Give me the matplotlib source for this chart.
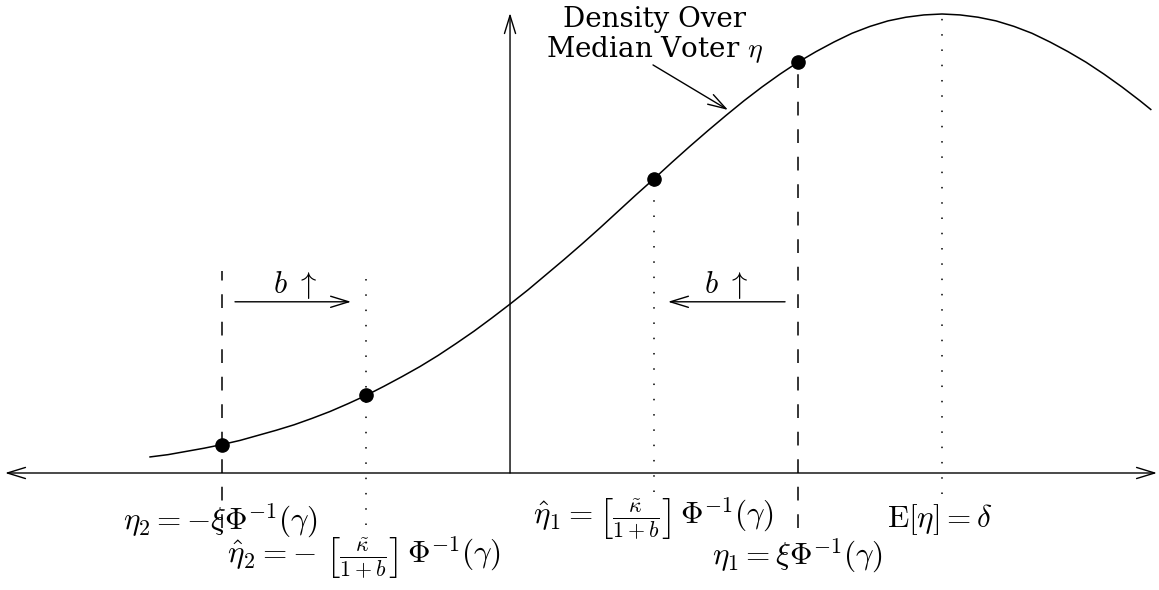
import numpy as np
import matplotlib.pyplot as plt
from matplotlib.patches import FancyArrowPatch

plt.rcParams['mathtext.fontset'] = 'cm'
plt.rcParams['font.family'] = 'DejaVu Serif'

# density of the median voter (peak = 1)
eta = [-2.5, -2.375, -2.25, -2.125, -2.0, -1.875, -1.75, -1.625, -1.5, -1.375,
       -1.25, -1.125, -1.0, -0.875, -0.75, -0.625, -0.5, -0.375, -0.25, -0.125,
       0.0, 0.125, 0.25, 0.375, 0.5, 0.625, 0.75, 0.875, 1.0, 1.125,
       1.25, 1.375, 1.5, 1.625, 1.75, 1.875, 2.0, 2.125, 2.25, 2.375,
       2.5, 2.625, 2.75, 2.875, 3.0, 3.125, 3.25, 3.375, 3.5, 3.625,
       3.75, 3.875, 4.0, 4.125, 4.25, 4.375, 4.45]
dens = [0.035, 0.040, 0.047, 0.054, 0.062, 0.071, 0.082, 0.093, 0.105, 0.119,
        0.134, 0.151, 0.169, 0.189, 0.210, 0.232, 0.256, 0.282, 0.309, 0.338,
        0.368, 0.399, 0.432, 0.465, 0.499, 0.534, 0.570, 0.606, 0.641, 0.677,
        0.712, 0.746, 0.779, 0.811, 0.841, 0.869, 0.895, 0.918, 0.939, 0.958,
        0.973, 0.985, 0.993, 0.998, 1.0, 0.998, 0.993, 0.985, 0.973, 0.958,
        0.939, 0.918, 0.895, 0.869, 0.841, 0.811, 0.792]

# marked points: eta2, eta2_hat, eta1_hat, eta1
pt_x = [-2.0, -1.0, 1.0, 2.0]
pt_y = [0.062, 0.169, 0.641, 0.895]

# vertical guides: x, top, bottom, style
guides = [(-2.0, 0.440, -0.120, 'dash'),
          (-1.0, 0.438, -0.113, 'dot'),
          (1.0, 0.641, -0.041, 'dot'),
          (2.0, 0.895, -0.120, 'dash'),
          (3.0, 1.0, -0.045, 'dot')]

labels = [(-2.014, -0.104, r'$\eta_2 = -\xi\Phi^{-1}(\gamma)$'),
          (-1.014, -0.186, r'$\hat{\eta}_2 = -\ \left[\frac{\tilde{\kappa}}{1+b}\right]\,\Phi^{-1}(\gamma)$'),
          (0.997, -0.102, r'$\hat{\eta}_1 = \left[\frac{\tilde{\kappa}}{1+b}\right]\,\Phi^{-1}(\gamma)$'),
          (1.993, -0.179, r'$\eta_1 = \xi\Phi^{-1}(\gamma)$'),
          (2.986, -0.102, r'$\mathrm{E}[\eta] = \delta$')]

fig = plt.figure(figsize=(11.59, 5.90), dpi=100)
ax = fig.add_axes([0, 0, 1, 1])
ax.set_xlim(-3.542, 4.507)
ax.set_ylim(-0.2549, 1.0305)
ax.axis('off')

def arrow(p0, p1, style='->'):
    a = FancyArrowPatch(p0, p1, arrowstyle=style + ',head_length=0.65,head_width=0.2',
                        mutation_scale=20, lw=1, color='black', shrinkA=0, shrinkB=0)
    ax.add_patch(a)

# axes
arrow((-3.507, 0), (4.493, 0), '<->')
arrow((0, 0), (0, 1.002))

ax.plot(eta, dens, color='black', lw=1.1)

for x, top, bot, st in guides:
    ls = (0, (9, 9)) if st == 'dash' else (0, (1, 9))
    ax.plot([x, x], [bot, top], color='black', lw=1.1, linestyle=ls)

ax.plot(pt_x, pt_y, 'o', color='black', markersize=9.5)

for x, y, s in labels:
    ax.text(x, y, s, fontsize=22.5, ha='center', va='center')

# b arrows
arrow((-1.910, 0.373), (-1.104, 0.373))
arrow((1.910, 0.373), (1.097, 0.373))
ax.text(-1.49, 0.41, r'$b\ \uparrow$', fontsize=22, ha='center', va='center')
ax.text(1.50, 0.41, r'$b\ \uparrow$', fontsize=22, ha='center', va='center')

ax.text(1.0, 0.954, 'Density Over\nMedian Voter $\\eta$', fontsize=20,
        ha='center', va='center', linespacing=1.05)
arrow((0.993, 0.889), (1.514, 0.791))

fig.savefig('out.png', dpi=100)
